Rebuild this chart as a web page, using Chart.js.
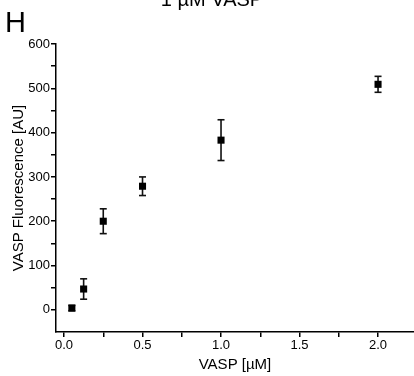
<!DOCTYPE html>
<html>
<head>
<meta charset="utf-8">
<script src="https://cdn.jsdelivr.net/npm/chart.js@4.4.1/dist/chart.umd.min.js"></script>
<style>
  body { margin: 0; background: #fff; }
  #wrap { width: 414px; height: 376px; position: relative; }
</style>
</head>
<body>
<div id="wrap"><canvas id="vaspChart"></canvas></div>
<script>
// data
const concentrations = [0.05, 0.125, 0.25, 0.5, 1.0, 2.0];
const fluorescence = [4, 47, 200, 279, 383, 509];
const errors = [6, 23, 28, 21, 46, 18];

const chartTitle = "1 µM VASP";
const panelLabel = "H";
const xTitle = "VASP [µM]";
const yTitle = "VASP Fluorescence [AU]";

const fontFamily = '"Liberation Sans", Arial, sans-serif';

// points for the markers
const markerData = concentrations.map((c, i) => ({ x: c, y: fluorescence[i] }));

// error bars: low, high, then a gap so the line breaks
const errorData = [];
concentrations.forEach((c, i) => {
  errorData.push({ x: c, y: fluorescence[i] - errors[i] });
  errorData.push({ x: c, y: fluorescence[i] + errors[i] });
  errorData.push({ x: c, y: null });
});

// title and panel letter
const labelPlugin = {
  id: "panelText",
  afterDraw(chart) {
    const ctx = chart.ctx;
    ctx.save();
    ctx.fillStyle = "#000";
    ctx.textBaseline = "alphabetic";
    ctx.font = "20px " + fontFamily;
    ctx.textAlign = "center";
    ctx.fillText(chartTitle, 212, 6);
    ctx.font = "29px " + fontFamily;
    ctx.textAlign = "left";
    ctx.fillText(panelLabel, 5, 32);
    ctx.restore();
  },
};

const ctx = document.getElementById("vaspChart");

new Chart(ctx, {
  type: "scatter",

  data: {
    datasets: [
      {
        label: "VASP",
        data: markerData,
        pointStyle: "rect",
        pointRadius: 5,
        pointBackgroundColor: "#000",
        pointBorderWidth: 0,
        showLine: false,
        order: 0,
      },
      {
        label: "error",
        data: errorData,
        showLine: true,
        spanGaps: false,
        borderColor: "#111",
        borderWidth: 1.6,
        pointStyle: "line",
        pointRadius: 3.5,
        pointBorderColor: "#111",
        pointBorderWidth: 1.6,
        order: 1,
      },
    ],
  },

  plugins: [labelPlugin],

  options: {
    responsive: true,
    maintainAspectRatio: false,
    animation: false,

    layout: {
      autoPadding: false,
      padding: { top: 44, right: 0, bottom: 0, left: 0 },
    },

    plugins: {
      legend: { display: false },
      title: { display: false },
      tooltip: { enabled: false },
    },

    scales: {
      x: {
        type: "linear",
        min: -0.051,
        max: 2.229,
        border: { color: "#000", width: 1.5 },
        grid: {
          drawOnChartArea: false,
          drawTicks: true,
          tickLength: 5,
          color: "#000",
          lineWidth: 1.5,
        },
        ticks: {
          stepSize: 0.25,
          includeBounds: false,
          autoSkip: false,
          maxRotation: 0,
          padding: 1,
          color: "#000",
          font: { family: fontFamily, size: 13 },
          callback: function (value) {
            return Math.abs(value * 2 - Math.round(value * 2)) < 1e-6
              ? value.toFixed(1)
              : "";
          },
        },
        title: {
          display: true,
          text: xTitle,
          color: "#000",
          font: { family: fontFamily, size: 15 },
          padding: { top: 0, bottom: 2 },
        },
        afterFit: function (scale) {
          scale.height = 44;
        },
      },

      y: {
        type: "linear",
        min: -50,
        max: 600,
        border: { color: "#000", width: 1.5 },
        grid: {
          drawOnChartArea: false,
          drawTicks: true,
          tickLength: 5,
          color: function (context) {
            return context.tick && context.tick.value === -50 ? "rgba(0,0,0,0)" : "#000";
          },
          lineWidth: 1.5,
        },
        ticks: {
          stepSize: 50,
          autoSkip: false,
          padding: 1,
          color: "#000",
          font: { family: fontFamily, size: 13 },
          callback: function (value) {
            return value % 100 === 0 && value >= 0 ? value : "";
          },
        },
        title: {
          display: true,
          text: yTitle,
          color: "#000",
          font: { family: fontFamily, size: 15 },
          padding: { top: 10, bottom: 0 },
        },
        afterFit: function (scale) {
          scale.width = 56;
        },
      },
    },
  },
});
</script>
</body>
</html>
